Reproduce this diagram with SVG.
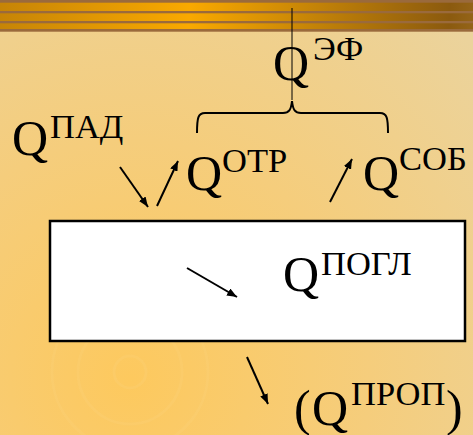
<svg xmlns="http://www.w3.org/2000/svg" width="473" height="435" viewBox="0 0 473 435">
  <defs>
    <radialGradient id="bg" cx="130" cy="380" r="480" gradientUnits="userSpaceOnUse">
      <stop offset="0" stop-color="#fdc95e"/>
      <stop offset="0.5" stop-color="#f5cd7c"/>
      <stop offset="1" stop-color="#ebd39c"/>
    </radialGradient>
    <linearGradient id="band" x1="0" y1="0" x2="473" y2="20" gradientUnits="userSpaceOnUse">
      <stop offset="0" stop-color="#c68406"/>
      <stop offset="0.4" stop-color="#f9a900"/>
      <stop offset="0.95" stop-color="#8b5a0e"/>
      <stop offset="1" stop-color="#946418"/>
    </linearGradient>
    <marker id="arrow" viewBox="0 0 10 8" refX="10" refY="4" markerWidth="10" markerHeight="8" markerUnits="userSpaceOnUse" orient="auto">
      <path d="M0,0 L10,4 L0,8 Z" fill="#000"/>
    </marker>
    <style>
      text { font-family: 'Liberation Serif', 'Times New Roman', serif; fill: #000; }
      .q { font-size: 50px; }
      .sup { font-size: 34.5px; }
      .arr { stroke: #000; stroke-width: 2; fill: none; marker-end: url(#arrow); }
      .ring { fill: none; stroke: #fdd27c; stroke-width: 3; opacity: 0.25; }
    </style>
  </defs>

  <!-- background -->
  <rect width="473" height="435" fill="url(#bg)"/>
  <circle class="ring" cx="130" cy="372" r="16"/>
  <circle class="ring" cx="130" cy="372" r="52"/>
  <circle class="ring" cx="130" cy="372" r="78"/>

  <!-- striped header band -->
  <rect x="0" y="0" width="473" height="31" fill="url(#band)"/>
  <g fill="#9a6a3c">
    <rect x="0" y="0" width="473" height="2.7"/>
    <rect x="0" y="11" width="473" height="2.3"/>
    <rect x="0" y="21" width="473" height="2.3"/>
    <rect x="0" y="29" width="473" height="2.7"/>
  </g>

  <!-- absorbing body -->
  <g id="body">
    <rect x="50" y="221" width="415" height="120" fill="#fff" stroke="#000" stroke-width="2.5"/>
  </g>

  <!-- connectors -->
  <g id="connectors">
    <line x1="292" y1="8" x2="292" y2="100" stroke="#000" stroke-width="1"/>
    <path d="M197,133 C197,118 198,113 205,113 L283,113 C289,113 291,110 292,101 C293,110 295,113 301,113 L380,113 C387,113 388,118 388,133" fill="none" stroke="#000" stroke-width="2"/>
    <line class="arr" x1="120" y1="167" x2="148" y2="207"/>
    <line class="arr" x1="157" y1="206" x2="178" y2="161"/>
    <line class="arr" x1="330" y1="202" x2="352" y2="159"/>
    <line class="arr" x1="187" y1="268" x2="237" y2="297"/>
    <line class="arr" x1="247" y1="357" x2="268" y2="404"/>
  </g>

  <!-- labels -->
  <g id="q-ef">
    <text class="q" x="273" y="80">Q</text>
    <text class="sup" x="313" y="60">ЭФ</text>
  </g>
  <g id="q-pad">
    <text class="q" x="12" y="155">Q</text>
    <text class="sup" x="50" y="138">ПАД</text>
  </g>
  <g id="q-otr">
    <text class="q" x="186" y="190">Q</text>
    <text class="sup" x="222" y="172">ОТР</text>
  </g>
  <g id="q-sob">
    <text class="q" x="363" y="190">Q</text>
    <text class="sup" x="399" y="170">СОБ</text>
  </g>
  <g id="q-pogl">
    <text class="q" x="283" y="291">Q</text>
    <text class="sup" x="321" y="275">ПОГЛ</text>
  </g>
  <g id="q-prop">
    <text class="q" x="294" y="425">(</text>
    <text class="q" x="312" y="425">Q</text>
    <text class="sup" x="351" y="405">ПРОП</text>
    <text class="q" x="446" y="425">)</text>
  </g>
</svg>
